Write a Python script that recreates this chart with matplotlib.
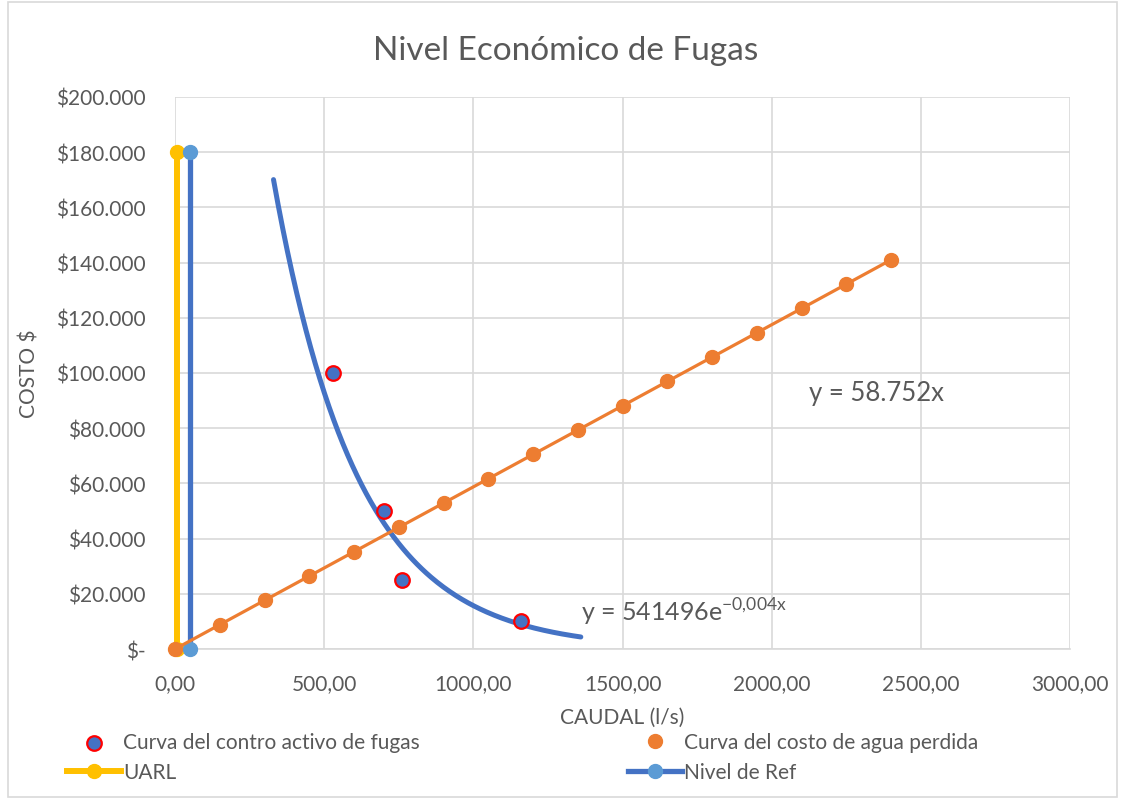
import numpy as np
import matplotlib
matplotlib.use("Agg")
from matplotlib import pyplot as plt
from matplotlib.patches import Rectangle
from matplotlib.lines import Line2D

plt.rcParams['font.family'] = ['Lato', 'DejaVu Sans']

# contro activo de fugas (scatter)
caudal_control = [530, 700, 760, 1160]
costo_control = [100000, 50000, 25000, 10000]

# costo de agua perdida
caudal_perdida = [0, 150, 300, 450, 600, 750, 900, 1050, 1200, 1350, 1500,
                  1650, 1800, 1950, 2100, 2250, 2400]
costo_perdida = [0, 8813, 17626, 26438, 35251, 44064, 52877, 61690, 70502,
                 79315, 88128, 96941, 105754, 114566, 123379, 132192, 141005]

# vertical reference lines
uarl_x = [5, 5]
uarl_y = [180000, 0]
ref_x = [50, 50]
ref_y = [180000, 0]

yticks = [0, 20000, 40000, 60000, 80000, 100000, 120000, 140000, 160000, 180000, 200000]
xticks = [0, 500, 1000, 1500, 2000, 2500, 3000]

BLUE = "#4472C4"
ORANGE = "#ED7D31"
YELLOW = "#FFC000"
LBLUE = "#5B9BD5"
GRID = "#D9D9D9"
TXT = "#595959"

fig = plt.figure(figsize=(11.25, 8.03), dpi=100)
ax = fig.add_axes([0.1556, 0.1905, 0.7956, 0.6875])

ax.grid(True, color=GRID, linewidth=1.2, zorder=0)
ax.set_axisbelow(True)

# exponential trendline fitted on the scatter data (Excel style, +-200 forecast)
cx = np.array(caudal_control, dtype=float)
cy = np.array(costo_control, dtype=float)
b, lna = np.polyfit(cx, np.log(cy), 1)
xt = np.linspace(cx.min() - 200, cx.max() + 200, 200)
ax.plot(xt, np.exp(lna) * np.exp(b * xt), color=BLUE, linewidth=3.6,
        solid_capstyle='round', zorder=3)

h1 = ax.scatter(caudal_control, costo_control, s=110, facecolor=BLUE,
                edgecolor="#FF0000", linewidth=1.6, zorder=5,
                label="Curva del contro activo de fugas")

ax.plot(caudal_perdida, costo_perdida, color=ORANGE, linewidth=2.3,
        marker='o', markersize=10, markerfacecolor=ORANGE,
        markeredgecolor=ORANGE, zorder=6, clip_on=False)
h2 = Line2D([], [], linestyle='none', marker='o', markersize=10,
            color=ORANGE, label="Curva del costo de agua perdida")

h3, = ax.plot(uarl_x, uarl_y, color=YELLOW, linewidth=4.3, marker='o',
              markersize=10, markerfacecolor=YELLOW, markeredgecolor=YELLOW,
              zorder=4, clip_on=False, label="UARL")
h4, = ax.plot(ref_x, ref_y, color=BLUE, linewidth=3.8, marker='o',
              markersize=10, markerfacecolor=LBLUE, markeredgecolor=LBLUE,
              zorder=4, clip_on=False, label="Nivel de Ref")

ax.set_xlim(0, 3000)
ax.set_ylim(0, 200000)
ax.set_xticks(xticks)
ax.set_yticks(yticks)
ax.set_xticklabels([f"{v},00" for v in xticks])
ax.set_yticklabels(["$-" if v == 0 else "${:,}".format(v).replace(",", ".")
                    for v in yticks])
ax.tick_params(length=0, labelsize=15, labelcolor=TXT)
ax.tick_params(axis='y', pad=21)
ax.tick_params(axis='x', pad=17)

for s in ["top", "right", "left"]:
    ax.spines[s].set_visible(False)
ax.spines["bottom"].set_color(GRID)
ax.spines["bottom"].set_linewidth(1.2)

ax.set_xlabel("CAUDAL (l/s)", fontsize=15, color=TXT, labelpad=10)
ax.set_ylabel("COSTO $", fontsize=15, color=TXT, labelpad=12)
fig.text(0.503, 0.936, "Nivel Económico de Fugas", fontsize=24, color=TXT,
         ha='center', va='center')

ax.text(2125, 93000, "y = 58.752x", fontsize=18.5, color=TXT, va='center')
ax.text(1360, 13500, r"y = 541496e$^{\mathregular{-0{,}004x}}$", fontsize=18,
        color=TXT, va='center')

fig.legend(handles=[h1, h3, h2, h4], ncol=2, loc='upper left',
           bbox_to_anchor=(0.052, 0.097), bbox_transform=fig.transFigure,
           borderaxespad=0, frameon=False, fontsize=15, labelcolor=TXT,
           handlelength=2.6, handletextpad=0.1, columnspacing=10.0,
           labelspacing=0.45)

fig.add_artist(Rectangle((0.007, 0.006), 0.986, 0.99, transform=fig.transFigure,
                         fill=False, edgecolor=GRID, linewidth=1.2))

fig.savefig("out.png", dpi=100)
